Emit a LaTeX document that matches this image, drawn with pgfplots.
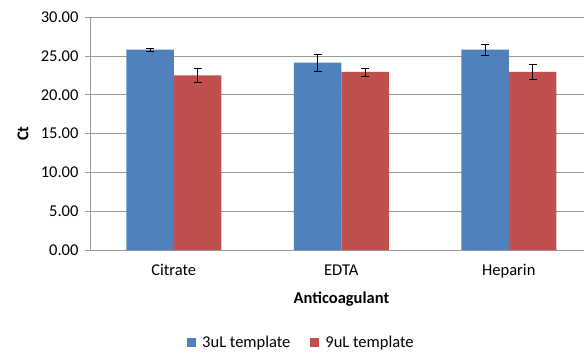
\documentclass[border=0pt]{standalone}
\usepackage{pgfplots}
\pgfplotsset{compat=1.18}
\usepackage{fontspec}
\setmainfont{Carlito}
\definecolor{cblue}{HTML}{4F81BD}
\definecolor{cred}{HTML}{C0504D}
\definecolor{cgrid}{HTML}{9A9A9A}
\newcommand{\cf}{\fontsize{16.5}{19}\selectfont}
\begin{document}
\begin{tikzpicture}
\begin{axis}[
  at={(0,0)}, anchor=south west,
  scale only axis, width=494pt, height=232.7pt,
  ybar=0pt, bar width=47.5pt,
  xmin=-0.5, xmax=2.449, ymin=0, ymax=30,
  axis x line*=bottom, axis y line*=left,
  axis line style={cgrid, line width=0.8pt},
  ytick={0,5,...,30},
  yticklabel={\pgfmathprintnumber[fixed,fixed zerofill,precision=2]{\tick}},
  /pgf/number format/assume math mode=true,
  ymajorgrids, grid style={cgrid, line width=0.8pt},
  tick align=outside,
  major tick length=5pt,
  tick style={cgrid, line width=0.8pt},
  xtick={0,1,2}, xticklabels={Citrate,EDTA,Heparin},
  xtick style={draw=none},
  extra x ticks={-0.5,0.5,1.5},
  extra x tick labels={},
  extra x tick style={major tick length=6pt, tick style={cgrid, line width=0.8pt}, grid=none},
  ticklabel style={font=\cf, text=black},
  yticklabel style={xshift=-3pt},
  xticklabel style={yshift=-6pt},
  xlabel={\textbf{Anticoagulant}},
  xlabel style={font=\cf, at={(axis description cs:0.509,-0.21)}, anchor=center},
  ylabel={\textbf{Ct}},
  ylabel style={font=\cf, at={(axis description cs:-0.1356,0.5)}, anchor=center, rotate=0},
  legend columns=2,
  legend style={draw=none, font=\cf, at={(axis description cs:0.428,-0.397)}, anchor=center,
    /tikz/every odd column/.append style={column sep=4pt},
    /tikz/every even column/.append style={column sep=18pt}},
  legend image code/.code={\fill[#1] (0pt,-4.5pt) rectangle (9pt,4.5pt);},
  error bars/error bar style={black, line width=0.7pt},
  error bars/error mark options={rotate=90, mark size=4pt, line width=0.7pt, black},
]
\addplot[fill=cblue, draw=none, error bars/.cd, y dir=both, y explicit]
  coordinates {(0,25.82) +- (0,0.15) (1,24.15) +- (0,1.07) (2,25.82) +- (0,0.73)};
\addplot[fill=cred, draw=none, error bars/.cd, y dir=both, y explicit]
  coordinates {(0,22.52) +- (0,0.9) (1,22.95) +- (0,0.5) (2,22.95) +- (0,1.0)};
\legend{3uL template, 9uL template}
\end{axis}
\pgfresetboundingbox
\path (-90pt,-103pt) rectangle (494pt,250pt);
\end{tikzpicture}
\end{document}
